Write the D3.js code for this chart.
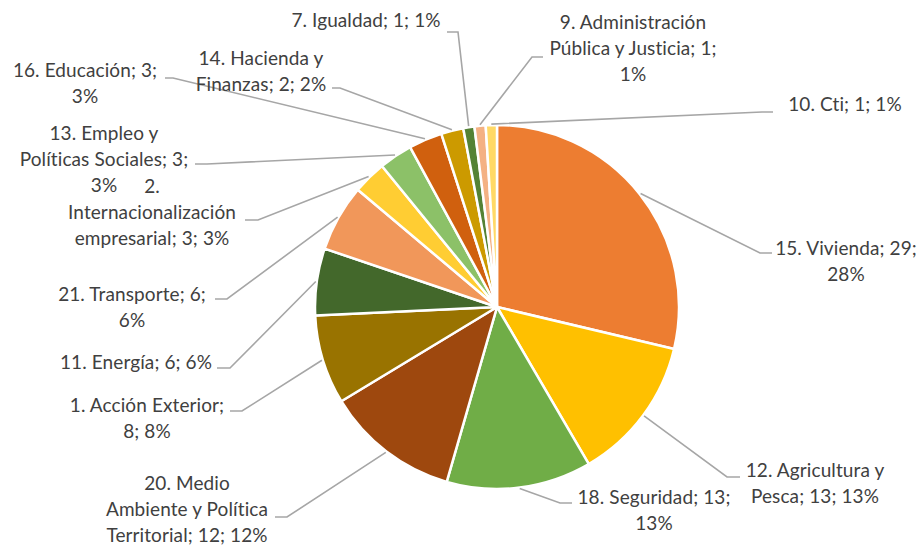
<!DOCTYPE html>
<html>
<head>
<meta charset="utf-8">
<script src="https://cdn.jsdelivr.net/npm/d3@7"></script>
<style>
  body { margin: 0; background: #fff; }
  svg text { font-family: Lato, "Open Sans", sans-serif; font-size: 19px; letter-spacing: 0.1px; fill: #404040; }
</style>
</head>
<body>
<div class="chart"></div>
<script>
// Data
var categories = ["15. Vivienda", "12. Agricultura y Pesca", "18. Seguridad", "20. Medio Ambiente y Política Territorial",
  "1. Acción Exterior", "11. Energía", "21. Transporte", "2. Internacionalización empresarial",
  "13. Empleo y Políticas Sociales", "16. Educación", "14. Hacienda y Finanzas", "7. Igualdad",
  "9. Administración Pública y Justicia", "10. Cti"];
var values = [29, 13, 13, 12, 8, 6, 6, 3, 3, 3, 2, 1, 1, 1];
var percents = ["28%", "13%", "13%", "12%", "8%", "6%", "6%", "3%", "3%", "3%", "2%", "1%", "1%", "1%"];

// Colours per slice
var colors = ["#ED7D31", "#FFC000", "#70AD47", "#9E480E", "#997300", "#43682B", "#F1975A",
  "#FFCD33", "#8CC168", "#D0600E", "#CC9A00", "#548235", "#F4B183", "#FFD966"];

// Label layout: text lines, centre x, centre y of first line, leader (attach x, knee x, y)
var labelLayout = [
  { lines: ["15. Vivienda; 29;", "28%"], x: 846, y: 248, ax: 772, kx: 760, ly: 253 },
  { lines: ["12. Agricultura y", "Pesca; 13; 13%"], x: 815, y: 470, ax: 740, kx: 727, ly: 477 },
  { lines: ["18. Seguridad; 13;", "13%"], x: 654, y: 497, ax: 572, kx: 560, ly: 503 },
  { lines: ["20. Medio", "Ambiente y Política", "Territorial; 12; 12%"], x: 187, y: 483, ax: 275, kx: 287, ly: 517 },
  { lines: ["1. Acción Exterior;", "8; 8%"], x: 147, y: 405, ax: 230, kx: 242, ly: 411 },
  { lines: ["11. Energía; 6; 6%"], x: 136, y: 362, ax: 217, kx: 230, ly: 368 },
  { lines: ["21. Transporte; 6;", "6%"], x: 132, y: 294, ax: 215, kx: 227, ly: 299 },
  { lines: ["2.", "Internacionalización", "empresarial; 3; 3%"], x: 152, y: 186, ax: 245, kx: 258, ly: 220 },
  { lines: ["13. Empleo y", "Políticas Sociales; 3;", "3%"], x: 104, y: 133, ax: 195, kx: 207, ly: 164 },
  { lines: ["16. Educación; 3;", "3%"], x: 85, y: 70, ax: 165, kx: 173, ly: 78 },
  { lines: ["14. Hacienda y", "Finanzas; 2; 2%"], x: 261, y: 58, ax: 332, kx: 340, ly: 88 },
  { lines: ["7. Igualdad; 1; 1%"], x: 366, y: 20, ax: 447, kx: 458, ly: 32 },
  { lines: ["9. Administración", "Pública y Justicia; 1;", "1%"], x: 633, y: 22, ax: 543, kx: 532, ly: 57 },
  { lines: ["10. Cti; 1; 1%"], x: 845, y: 104, ax: 773, kx: 762, ly: 112 }
];

var width = 924, height = 546;
var cx = 497, cy = 307, radius = 182;
var lineHeight = 26;

var svg = d3.select(".chart").append("svg")
  .attr("width", width)
  .attr("height", height);

var pie = d3.pie().sort(null).value(d => d);
var pieData = pie(values);

var arc = d3.arc().innerRadius(0).outerRadius(radius);
var outerArc = d3.arc().innerRadius(radius + 1).outerRadius(radius + 1);

var g = svg.append("g").attr("transform", "translate(" + cx + "," + cy + ")");

// Slices
g.selectAll("path.slice")
  .data(pieData)
  .enter()
  .append("path")
  .attr("class", "slice")
  .attr("d", arc)
  .attr("fill", (d, i) => colors[i])
  .attr("stroke", "#fff")
  .attr("stroke-width", 2.5)
  .attr("stroke-linejoin", "round");

// Leader lines
svg.selectAll("polyline.leader")
  .data(pieData)
  .enter()
  .append("polyline")
  .attr("class", "leader")
  .attr("fill", "none")
  .attr("stroke", "#A6A6A6")
  .attr("stroke-width", 1.6)
  .attr("points", function(d, i) {
    var L = labelLayout[i];
    var p = outerArc.centroid(d);
    return [[L.ax, L.ly], [L.kx, L.ly], [cx + p[0], cy + p[1]]].join(" ");
  });

// Labels
var labels = svg.selectAll("text.label")
  .data(pieData)
  .enter()
  .append("text")
  .attr("class", "label")
  .attr("text-anchor", "middle");

labels.each(function(d, i) {
  var L = labelLayout[i];
  d3.select(this).selectAll("tspan")
    .data(L.lines)
    .enter()
    .append("tspan")
    .attr("x", L.x)
    .attr("y", (t, j) => L.y + j * lineHeight)
    .attr("dy", "0.35em")
    .text(t => t);
});
</script>
</body>
</html>
